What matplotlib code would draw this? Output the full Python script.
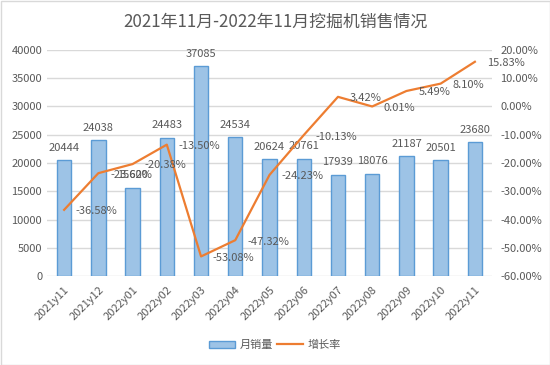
import matplotlib
matplotlib.use("Agg")
import matplotlib.pyplot as plt
from matplotlib.patches import Rectangle
from matplotlib.ticker import FuncFormatter, MultipleLocator

plt.rcParams['font.family'] = ['Noto Sans CJK SC', 'DejaVu Sans']

months = ['2021y11', '2021y12', '2022y01', '2022y02', '2022y03', '2022y04', '2022y05',
          '2022y06', '2022y07', '2022y08', '2022y09', '2022y10', '2022y11']
sales = [20444, 24038, 15620, 24483, 37085, 24534, 20624,
         20761, 17939, 18076, 21187, 20501, 23680]
growth = [-36.58, -23.60, -20.38, -13.50, -53.08, -47.32, -24.23,
          -10.13, 3.42, 0.01, 5.49, 8.10, 15.83]

gray = '#595959'
bar_face = '#9DC3E6'
bar_edge = '#5B9BD5'
orange = '#ED7D31'

W, H = 550, 365
fig = plt.figure(figsize=(W / 100, H / 100), dpi=100)
fig.patches.append(Rectangle((0.5 / W, 0.5 / H), 1 - 1 / W, 1 - 1 / H, transform=fig.transFigure,
                             fill=False, edgecolor='#D9D9D9', linewidth=1))

ax = fig.add_axes([47 / W, (H - 276) / H, (492 - 47) / W, 226 / H])
x = list(range(len(months)))
ax.bar(x, sales, width=0.42, color=bar_face, edgecolor=bar_edge, linewidth=1, zorder=2)
ax.set_ylim(0, 40000)
ax.set_xlim(-0.5, len(months) - 0.5)
ax.yaxis.set_major_locator(MultipleLocator(5000))
ax.grid(axis='y', color='#D9D9D9', linewidth=1, zorder=0)
ax.set_axisbelow(True)
for s in ax.spines.values():
    s.set_visible(False)
ax.tick_params(axis='both', length=0, colors=gray, labelsize=8)
ax.set_xticks(x)
ax.set_xticklabels(months, rotation=45, ha='right', rotation_mode='anchor')
ax.tick_params(axis='x', pad=6)

for xi, v in zip(x, sales):
    ax.annotate(str(v), (xi, v), xytext=(0, 9), textcoords='offset points',
                ha='center', va='center', fontsize=8, color=gray, zorder=5)

ax2 = ax.twinx()
ax2.plot(x, growth, color=orange, linewidth=1.6, zorder=4)
ax2.set_ylim(-60, 20)
ax2.yaxis.set_major_locator(MultipleLocator(10))
ax2.yaxis.set_major_formatter(FuncFormatter(lambda v, p: f'{v:.2f}%'))
for s in ax2.spines.values():
    s.set_visible(False)
ax2.tick_params(axis='y', length=0, colors=gray, labelsize=8, pad=6)
for xi, g in zip(x, growth):
    ax2.annotate(f'{g:.2f}%', (xi, g), xytext=(8.5, -1), textcoords='offset points',
                 ha='left', va='center', fontsize=8, color=gray, zorder=5)

fig.text(0.5, (H - 22) / H, '2021年11月-2022年11月挖掘机销售情况', ha='center', va='center',
         fontsize=12.2, color=gray)

h1 = Rectangle((0, 0), 1, 1, facecolor=bar_face, edgecolor=bar_edge)
h2 = plt.Line2D([0], [0], color=orange, linewidth=1.6)
fig.legend([h1, h2], ['月销量', '增长率'], loc='center', bbox_to_anchor=(0.5, (H - 345) / H),
           ncol=2, frameon=False, fontsize=8, labelcolor=gray, handlelength=2.3,
           handleheight=0.6, columnspacing=0.4, handletextpad=0.4)

fig.savefig('out.png', dpi=100)
